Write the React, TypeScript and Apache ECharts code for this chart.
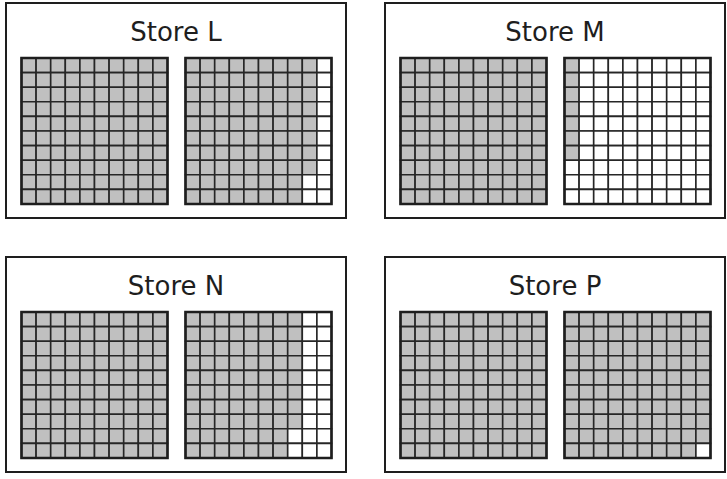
import { useEffect, useRef } from 'react'
import * as echarts from 'echarts'

// Four stores, each shown as two 10x10 unit grids (200 units). Cells fill
// column by column, top to bottom, starting from the first grid.
const STORES = ['Store L', 'Store M', 'Store N', 'Store P']
const FILLED = [188, 107, 178, 199]
const CELLS_PER_GRID = 100
const SIDE = 10

const COLOR = {
  fill: '#c0c0c0',
  empty: '#ffffff',
  line: '#262626',
  frame: '#1e1e1e',
  text: '#1e1e1e',
}

// panel layout in px: [left, top] of each store frame
const PANEL_POS = [
  [6, 3],
  [385, 3],
  [6, 257],
  [385, 257],
]
const PANEL_W = 340
const PANEL_H = 215
const GRID_SIZE = 146
const GRID_OFFSETS = [15.5, 179.5] // x of each square inside the panel
const GRID_TOP = 55

const IDX = Array.from({ length: SIDE }, (_, i) => String(i))

function cellsFor(count: number, gridIndex: number) {
  const out: number[][] = []
  for (let col = 0; col < SIDE; col++) {
    for (let row = 0; row < SIDE; row++) {
      const n = gridIndex * CELLS_PER_GRID + col * SIDE + row
      out.push([col, row, n < count ? 1 : 0])
    }
  }
  return out
}

function buildOption(): echarts.EChartsOption {
  const grid: any[] = []
  const xAxis: any[] = []
  const yAxis: any[] = []
  const series: any[] = []
  const graphic: any[] = []

  STORES.forEach((name, s) => {
    const [px, py] = PANEL_POS[s]
    graphic.push({
      type: 'rect',
      shape: { x: px, y: py, width: PANEL_W, height: PANEL_H },
      style: { fill: 'none', stroke: COLOR.frame, lineWidth: 2 },
      z: 1,
    })
    graphic.push({
      type: 'text',
      x: px + PANEL_W / 2,
      y: py + 29,
      style: {
        text: name,
        fill: COLOR.text,
        font: '26px "DejaVu Sans", Verdana, sans-serif',
        align: 'center',
        verticalAlign: 'middle',
      },
      z: 5,
    })

    GRID_OFFSETS.forEach((off, g) => {
      const gi = grid.length
      const left = px + off
      const top = py + GRID_TOP
      grid.push({ left, top, width: GRID_SIZE, height: GRID_SIZE, show: false })
      xAxis.push({ type: 'category', gridIndex: gi, data: IDX, show: false })
      yAxis.push({ type: 'category', gridIndex: gi, data: IDX, inverse: true, show: false })
      series.push({
        type: 'custom',
        xAxisIndex: gi,
        yAxisIndex: gi,
        data: cellsFor(FILLED[s], g),
        silent: true,
        renderItem: (_params: any, api: any) => {
          const c = api.coord([api.value(0), api.value(1)])
          const size = api.size([1, 1])
          return {
            type: 'rect',
            shape: {
              x: c[0] - size[0] / 2,
              y: c[1] - size[1] / 2,
              width: size[0],
              height: size[1],
            },
            style: {
              fill: api.value(2) ? COLOR.fill : COLOR.empty,
              stroke: COLOR.line,
              lineWidth: 1.6,
            },
          }
        },
      })
      graphic.push({
        type: 'rect',
        shape: { x: left, y: top, width: GRID_SIZE, height: GRID_SIZE },
        style: { fill: 'none', stroke: COLOR.frame, lineWidth: 2.6 },
        z: 100,
      })
    })
  })

  return {
    animation: false,
    backgroundColor: '#ffffff',
    grid,
    xAxis,
    yAxis,
    series,
    graphic,
  }
}

export default function App() {
  const ref = useRef<HTMLDivElement>(null)

  useEffect(() => {
    const el = ref.current
    if (!el) return
    const chart = echarts.init(el, undefined, { renderer: 'svg' })
    chart.setOption(buildOption())
    return () => chart.dispose()
  }, [])

  return (
    <div
      ref={ref}
      style={{ position: 'fixed', left: 0, top: 0, width: 727, height: 479 }}
    />
  )
}
